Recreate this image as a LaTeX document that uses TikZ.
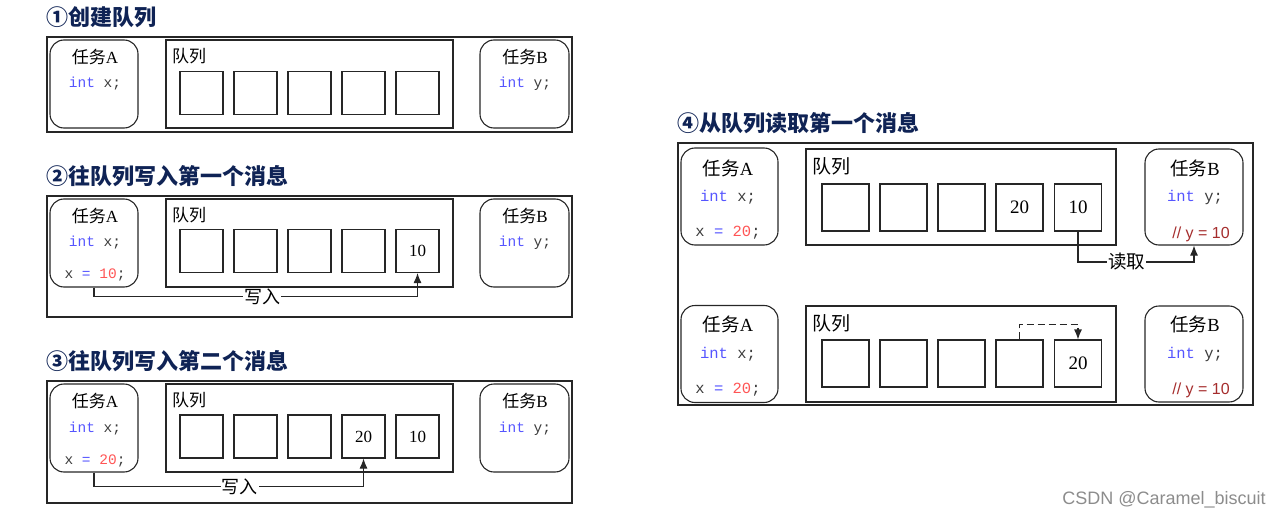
\documentclass[tikz,border=0pt]{standalone}
\usepackage{fontspec}
\setmainfont{Liberation Serif}
\newfontfamily\cjk{Noto Sans CJK SC}
\newfontfamily\codefont{Liberation Mono}
\newfontfamily\sansf{Liberation Sans}
\usetikzlibrary{arrows.meta}
\definecolor{kw}{RGB}{85,85,255}
\definecolor{num}{RGB}{255,85,85}
\definecolor{dk}{RGB}{60,60,60}
\definecolor{cmt}{RGB}{165,45,45}
\definecolor{ttl}{RGB}{15,35,85}
\begin{document}
\begin{tikzpicture}[x=1pt,y=-1pt,
  lw/.style={line width=1.1pt, draw=black!85},
  outerbox/.style={lw, inner sep=0pt},
  taskbox/.style={lw, rounded corners=14pt, inner sep=0pt},
  queuebox/.style={lw, inner sep=0pt},
  cell/.style={lw, inner sep=0pt, minimum width=43pt, minimum height=43pt, font=\fontsize{17}{17}\selectfont},
  bigcell/.style={cell, minimum width=47pt, minimum height=47pt, font=\fontsize{19}{19}\selectfont},
  tname/.style={font=\fontsize{17}{20}\selectfont, inner sep=0pt},
  btname/.style={font=\fontsize{18.5}{22}\selectfont, inner sep=0pt},
  code/.style={font=\codefont\fontsize{14.5}{16}\selectfont, inner sep=0pt},
  bcode/.style={font=\codefont\fontsize{15.5}{17}\selectfont, inner sep=0pt},
  qlabel/.style={font=\cjk\fontsize{17}{20}\selectfont, anchor=west, inner sep=0pt},
  bqlabel/.style={font=\cjk\fontsize{19}{22}\selectfont, anchor=west, inner sep=0pt},
  ttlstyle/.style={font=\cjk\bfseries\fontsize{22}{26}\selectfont, text=ttl, anchor=west, inner sep=0pt},
  arr/.style={line width=1.1pt, draw=black!85, -{Latex[length=10pt,width=8pt]}},
  lbl/.style={fill=white, inner sep=1pt, font=\cjk\fontsize{18}{20}\selectfont},
  blbl/.style={fill=white, inner sep=1pt, font=\cjk\fontsize{18.5}{20}\selectfont}
]
\useasboundingbox (0,0) rectangle (1286,519);

% ---------- Panel 1 ----------
\node[ttlstyle] (t1) at (46,17) {①创建队列};
\node[outerbox, minimum width=525pt, minimum height=95pt] (O1) at (309.5,84.5) {};
\node[taskbox, minimum width=88pt, minimum height=88pt] (TA1) at (94,84) {};
\node[queuebox, minimum width=287pt, minimum height=88pt] (Q1) at (309.5,84) {};
\node[taskbox, minimum width=89pt, minimum height=88pt] (TB1) at (524.5,84) {};
\foreach \i/\x in {1/201.5,2/255.5,3/309.5,4/363.5,5/417.5}
  \node[cell] (c1\i) at (\x,93) {};
\node[tname] (ta1) at (95,57) {{\cjk 任务}A};
\node[code] (ca1) at (95,84) {\color{kw}int \color{dk}x;};
\node[qlabel] (q1) at (172,56) {队列};
\node[tname] (tb1) at (525,57) {{\cjk 任务}B};
\node[code] (cb1) at (525,84) {\color{kw}int \color{dk}y;};

% ---------- Panel 2 ----------
\node[ttlstyle] (t2) at (46,176) {②往队列写入第一个消息};
\node[outerbox, minimum width=525pt, minimum height=121pt] (O2) at (309.5,256.5) {};
\node[taskbox, minimum width=88pt, minimum height=88pt] (TA2) at (94,243) {};
\node[queuebox, minimum width=287pt, minimum height=88pt] (Q2) at (309.5,243) {};
\node[taskbox, minimum width=89pt, minimum height=88pt] (TB2) at (524.5,243) {};
\foreach \i/\x in {1/201.5,2/255.5,3/309.5,4/363.5}
  \node[cell] (c2\i) at (\x,251) {};
\node[cell] (c25) at (417.5,251) {10};
\node[tname] (ta2) at (95,216) {{\cjk 任务}A};
\node[code] (ca2) at (95,243) {\color{kw}int \color{dk}x;};
\node[code] (cx2) at (95,275) {\color{dk}x \color{kw}= \color{num}10\color{dk};};
\node[qlabel] (q2) at (172,215) {队列};
\node[tname] (tb2) at (525,216) {{\cjk 任务}B};
\node[code] (cb2) at (525,243) {\color{kw}int \color{dk}y;};
\draw[arr] (TA2.south) -- ++(0,9) -| node[lbl, pos=0.26] (w2) {写入} (c25.south);

% ---------- Panel 3 ----------
\node[ttlstyle] (t3) at (46,361) {③往队列写入第二个消息};
\node[outerbox, minimum width=525pt, minimum height=122pt] (O3) at (309.5,442) {};
\node[taskbox, minimum width=88pt, minimum height=88pt] (TA3) at (94,428) {};
\node[queuebox, minimum width=287pt, minimum height=88pt] (Q3) at (309.5,428) {};
\node[taskbox, minimum width=89pt, minimum height=88pt] (TB3) at (524.5,428) {};
\foreach \i/\x in {1/201.5,2/255.5,3/309.5}
  \node[cell] (c3\i) at (\x,436.5) {};
\node[cell] (c34) at (363.5,436.5) {20};
\node[cell] (c35) at (417.5,436.5) {10};
\node[tname] (ta3) at (95,401) {{\cjk 任务}A};
\node[code] (ca3) at (95,429) {\color{kw}int \color{dk}x;};
\node[code] (cx3) at (95,461) {\color{dk}x \color{kw}= \color{num}20\color{dk};};
\node[qlabel] (q3) at (172,400) {队列};
\node[tname] (tb3) at (525,401) {{\cjk 任务}B};
\node[code] (cb3) at (525,429) {\color{kw}int \color{dk}y;};
\draw[arr] (TA3.south) -- ++(0,14) -| node[lbl, pos=0.27] (w3) {写入} (c34.south);

% ---------- Panel 4 ----------
\node[ttlstyle] (t4) at (677,123) {④从队列读取第一个消息};
\node[outerbox, minimum width=575pt, minimum height=262pt] (O4) at (965.5,274) {};
% top
\node[taskbox, minimum width=97pt, minimum height=97pt] (TA4a) at (729.5,196.5) {};
\node[queuebox, minimum width=310pt, minimum height=96pt] (Q4a) at (961,197) {};
\node[taskbox, minimum width=98pt, minimum height=96pt] (TB4a) at (1194,197) {};
\foreach \i/\x in {1/845.5,2/903.5,3/961.5}
  \node[bigcell] (c4a\i) at (\x,207.5) {};
\node[bigcell] (c4a4) at (1019.5,207.5) {20};
\node[bigcell] (c4a5) at (1078,207.5) {10};
\node[btname] (ta4a) at (728,168) {{\cjk 任务}A};
\node[bcode] (ca4a) at (728,197) {\color{kw}int \color{dk}x;};
\node[bcode] (cx4a) at (728,233) {\color{dk}x \color{kw}= \color{num}20\color{dk};};
\node[bqlabel] (q4a) at (812,166) {队列};
\node[btname] (tb4a) at (1195,168) {{\cjk 任务}B};
\node[bcode] (cb4a) at (1195,197) {\color{kw}int \color{dk}y;};
\node[inner sep=0pt, font=\sansf\fontsize{16}{18}\selectfont, text=cmt] (cm4a) at (1201,234) {// y = 10};
\draw[arr] (c4a5.south) -- (c4a5.south |- 0,262) -| node[blbl, pos=0.21] (rd) {读取} (TB4a.south);
% bottom
\node[taskbox, minimum width=97pt, minimum height=97pt] (TA4b) at (729.5,354) {};
\node[queuebox, minimum width=310pt, minimum height=96pt] (Q4b) at (961,354) {};
\node[taskbox, minimum width=98pt, minimum height=96pt] (TB4b) at (1194,354) {};
\foreach \i/\x in {1/845.5,2/903.5,3/961.5,4/1019.5}
  \node[bigcell] (c4b\i) at (\x,363.5) {};
\node[bigcell] (c4b5) at (1078,363.5) {20};
\node[btname] (ta4b) at (728,324) {{\cjk 任务}A};
\node[bcode] (ca4b) at (728,354) {\color{kw}int \color{dk}x;};
\node[bcode] (cx4b) at (728,390) {\color{dk}x \color{kw}= \color{num}20\color{dk};};
\node[bqlabel] (q4b) at (812,323) {队列};
\node[btname] (tb4b) at (1195,324) {{\cjk 任务}B};
\node[bcode] (cb4b) at (1195,354) {\color{kw}int \color{dk}y;};
\node[inner sep=0pt, font=\sansf\fontsize{16}{18}\selectfont, text=cmt] (cm4b) at (1201,390) {// y = 10};
\draw[arr, dash pattern=on 7pt off 4pt] (c4b4.north) -- ++(0,-15) -| (c4b5.north);

% watermark
\node[font=\sansf\fontsize{18}{20}\selectfont, text=black!45, inner sep=0pt] (wm) at (1164,500) {CSDN @Caramel\_biscuit};
\end{tikzpicture}
\end{document}
